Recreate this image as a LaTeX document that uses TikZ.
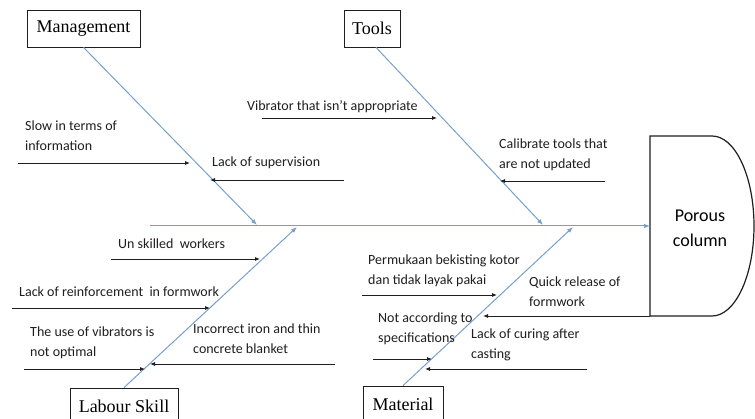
\documentclass[tikz,border=0pt]{standalone}
\usepackage{fontspec}
\setmainfont{Carlito}
\newfontfamily\fbserif{Liberation Serif}
\usepackage{tikz}
\usepackage{xcolor}
\usetikzlibrary{arrows.meta,positioning}
\definecolor{fbblue}{RGB}{118,160,204}
\definecolor{fbdark}{RGB}{30,30,30}
\tikzset{
  fbcat/.style={draw=fbdark, thick, fill=white, font=\fbserif\fontsize{18}{20}\selectfont, minimum height=37pt, inner xsep=5pt},
  fbcause/.style={anchor=north west, inner sep=0pt, align=left, font=\fontsize{14}{20}\selectfont, text=fbdark},
  fbbone/.style={-{Latex[length=6pt,width=4.5pt]}, line width=1pt, draw=fbblue},
  fbarr/.style={-{Latex[length=5pt,width=4pt]}, line width=.8pt, draw=fbdark},
  fbhead/.style={draw=fbdark, line width=1.2pt}
}

\begin{document}
\begin{tikzpicture}[x=1pt, y=-1pt]
  \useasboundingbox (0,0) rectangle (755,419);
  % effect
  \draw[fbhead] (650,136) -- (712,136) arc[start angle=-90, end angle=90, x radius=42, y radius=90] -- (650,316) -- cycle;
  \node[align=center, font=\fontsize{18}{25}\selectfont] (head) at (700,228) {Porous\\column};
  \coordinate (headw) at (650,226);
  \coordinate (tail) at (150,226);
  % categories
  \node[fbcat, minimum width=113pt] (mgmt) at (83.5,28.5) {Management};
  \node[fbcat, minimum width=56pt] (tools) at (372,28.5) {Tools};
  \node[fbcat, minimum width=108pt] (labour) at (124,406.5) {Labour Skill};
  \node[fbcat, minimum width=80pt] (material) at (403,404.5) {Material};
  \coordinate (mgtip) at (257,225);
  \coordinate (tltip) at (543,225);
  \coordinate (lbtip) at (297,227);
  \coordinate (mttip) at (573,227);
  \draw[fbbone] (tail) -- (headw);
  \draw[fbbone] (mgmt.south) -- (mgtip);
  \draw[fbbone] ([xshift=4pt]tools.south) -- (tltip);
  \draw[fbbone] (labour.north) -- (lbtip);
  \draw[fbbone] (material.north) -- (mttip);
  % management causes
  \node[fbcause] (slow) at (25,121) {Slow in terms of\\information};
  \node[fbcause] (superv) at (212,157) {Lack of supervision};
  \coordinate (s1) at (18,163);   \coordinate (e1) at (190,163);
  \coordinate (s2) at (344,180);  \coordinate (e2) at (210,180);
  \draw[fbarr] (s1) -- (e1);
  \draw[fbarr] (s2) -- (e2);
  % tools causes
  \node[fbcause] (vibr) at (247,100) {Vibrator that isn’t appropriate};
  \node[fbcause] (calib) at (499,139) {Calibrate tools that\\are not updated};
  \coordinate (s3) at (262,118);  \coordinate (e3) at (437,118);
  \coordinate (s4) at (605,181);  \coordinate (e4) at (500,181);
  \draw[fbarr] (s3) -- (e3);
  \draw[fbarr] (s4) -- (e4);
  % labour causes
  \node[fbcause] (unsk) at (118,239) {Un skilled\ \ workers};
  \node[fbcause] (reinf) at (19,287) {Lack of reinforcement\ \ in formwork};
  \node[fbcause] (usevib) at (30,327) {The use of vibrators is\\not optimal};
  \node[fbcause] (iron) at (193,324) {Incorrect iron and thin\\concrete blanket};
  \coordinate (s5) at (111,259);  \coordinate (e5) at (260,259);
  \coordinate (s6) at (12,308);   \coordinate (e6) at (210,308);
  \coordinate (s7) at (24,369);   \coordinate (e7) at (145,369);
  \coordinate (s8) at (335,364);  \coordinate (e8) at (150,364);
  \draw[fbarr] (s5) -- (e5);
  \draw[fbarr] (s6) -- (e6);
  \draw[fbarr] (s7) -- (e7);
  \draw[fbarr] (s8) -- (e8);
  % material causes
  \node[fbcause] (perm) at (368,255) {Permukaan bekisting kotor\\dan tidak layak pakai};
  \node[fbcause] (quick) at (529,277) {Quick release of\\formwork};
  \node[fbcause] (spec) at (378,313) {Not according to\\specifications};
  \node[fbcause] (curing) at (471,329) {Lack of curing after\\casting};
  \coordinate (s9) at (362,295);  \coordinate (e9) at (497,295);
  \coordinate (s10) at (650,316); \coordinate (e10) at (483,316);
  \coordinate (s11) at (373,359); \coordinate (e11) at (432,359);
  \coordinate (s12) at (587,369); \coordinate (e12) at (425,369);
  \draw[fbarr] (s9) -- (e9);
  \draw[fbarr] (s10) -- (e10);
  \draw[fbarr] (s11) -- (e11);
  \draw[fbarr] (s12) -- (e12);
\end{tikzpicture}
\end{document}
